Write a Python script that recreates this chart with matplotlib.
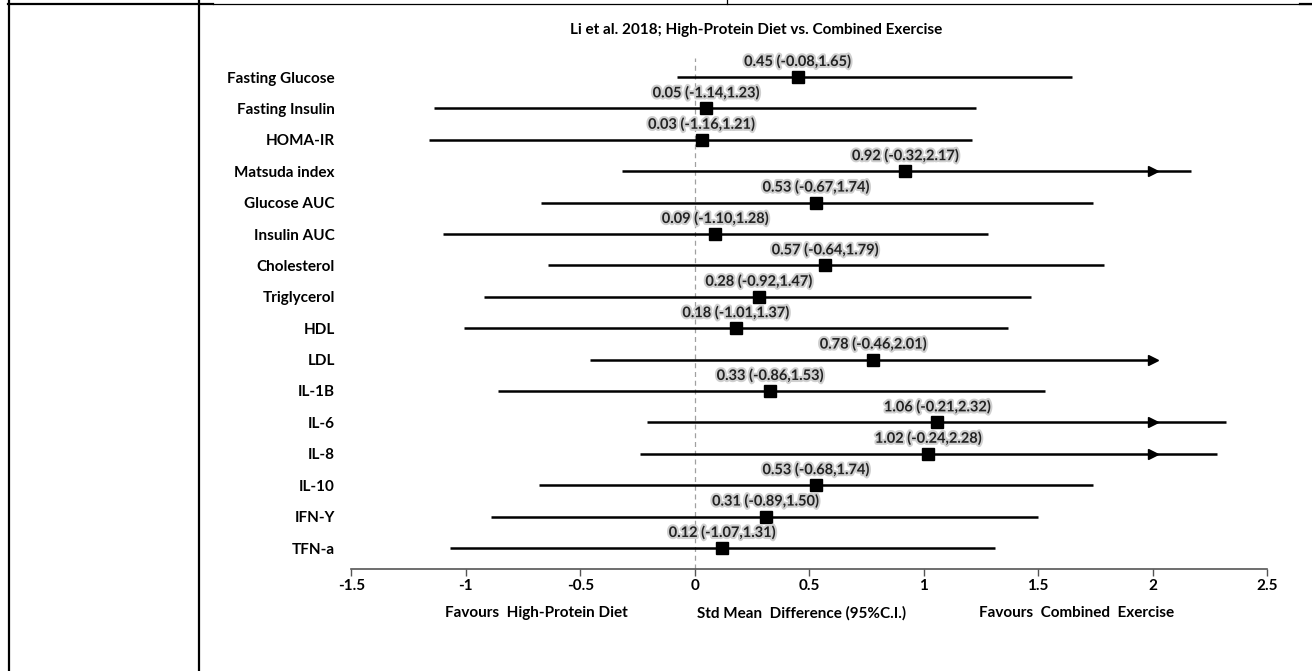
import matplotlib
matplotlib.use("Agg")
import matplotlib.pyplot as plt
import matplotlib.patheffects as pe
from matplotlib.lines import Line2D

outcomes = ["Fasting Glucose", "Fasting Insulin", "HOMA-IR", "Matsuda index",
            "Glucose AUC", "Insulin AUC", "Cholesterol", "Triglycerol", "HDL",
            "LDL", "IL-1B", "IL-6", "IL-8", "IL-10", "IFN-Y", "TFN-a"]
smd = [0.45, 0.05, 0.03, 0.92, 0.53, 0.09, 0.57, 0.28, 0.18, 0.78, 0.33,
       1.06, 1.02, 0.53, 0.31, 0.12]
ci_low = [-0.08, -1.14, -1.16, -0.32, -0.67, -1.10, -0.64, -0.92, -1.01,
          -0.46, -0.86, -0.21, -0.24, -0.68, -0.89, -1.07]
ci_high = [1.65, 1.23, 1.21, 2.17, 1.74, 1.28, 1.79, 1.47, 1.37, 2.01, 1.53,
           2.32, 2.28, 1.74, 1.50, 1.31]
x_ticks = [-1.5, -1, -0.5, 0, 0.5, 1, 1.5, 2, 2.5]
x_tick_labels = ["-1.5", "-1", "-0.5", "0", "0.5", "1", "1.5", "2", "2.5"]
arrow_at = 2.0

W, H = 1312, 671
fig = plt.figure(figsize=(W / 100, H / 100), dpi=100)
plt.rcParams["font.family"] = ["Lato", "DejaVu Sans"]
FS = 11

# axes placement in pixel terms
x0, x1 = 351.5, 1267
y_top, y_axis = 30, 569
ax = fig.add_axes([x0 / W, (H - y_axis) / H, (x1 - x0) / W, (y_axis - y_top) / H])

row0_px, row_step = 77, 31.4
ax.set_xlim(-1.5, 2.5)
ax.set_ylim((y_axis - row0_px) / row_step, (y_top - row0_px) / row_step)

rows = list(range(len(outcomes)))

# reference line at zero
ax.plot([0, 0], [ax.get_ylim()[0], -0.6], ls=(0, (4, 3)), color="#a0a0a0", lw=0.9, zorder=1)

for i, (m, lo, hi) in enumerate(zip(smd, ci_low, ci_high)):
    ax.plot([lo, hi], [i, i], color="black", lw=1.8, solid_capstyle="butt", zorder=2)
    ax.plot([m], [i], marker="s", ms=8, color="black", zorder=3)
    if hi > arrow_at - 0.001:
        ax.plot([arrow_at], [i], marker=">", ms=6.5, color="black", zorder=3)
    ax.annotate(f"{m:.2f} ({lo:.2f},{hi:.2f})", xy=(m, i), xytext=(0, 11),
                textcoords="offset points", ha="center", va="center",
                fontsize=10.5, fontweight="bold", color="#222222",
                path_effects=[pe.withStroke(linewidth=3, foreground="#cfcfcf")])

ax.set_yticks(rows)
ax.set_yticklabels(outcomes, fontsize=FS, fontweight="bold")
ax.tick_params(axis="y", length=0, pad=12)
ax.set_xticks(x_ticks)
ax.set_xticklabels(x_tick_labels, fontsize=FS, fontweight="bold")
ax.tick_params(axis="x", direction="out", length=5, width=1, color="#555555", pad=2)
for s in ["top", "right", "left"]:
    ax.spines[s].set_visible(False)
ax.spines["bottom"].set_color("#555555")
ax.spines["bottom"].set_linewidth(1.2)

# title and axis captions
fig.text(756 / W, 1 - 30 / H, "Li et al. 2018; High-Protein Diet vs. Combined Exercise",
         ha="center", va="center", fontsize=FS, fontweight="bold")
for label, xc in [("Favours  High-Protein Diet", 536),
                  ("Std Mean  Difference (95%C.I.)", 802),
                  ("Favours  Combined  Exercise", 1077)]:
    fig.text(xc / W, 1 - 613 / H, label, ha="center", va="center",
             fontsize=FS, fontweight="bold")

# surrounding table rules
def hline(y, xa, xb, lw):
    fig.add_artist(Line2D([xa / W, xb / W], [1 - y / H, 1 - y / H], color="black", lw=lw))

def vline(x, ya, yb, lw):
    fig.add_artist(Line2D([x / W, x / W], [1 - ya / H, 1 - yb / H], color="black", lw=lw))

hline(3.5, 8, 213, 1.6)
hline(3.5, 213, 1312, 0.9)
hline(4, 1300, 1312, 1.6)
vline(8.5, 0, 671, 1.6)
vline(199, 0, 671, 1.6)
vline(727, 0, 4, 0.9)

fig.savefig("out.png", dpi=100, facecolor="white")
